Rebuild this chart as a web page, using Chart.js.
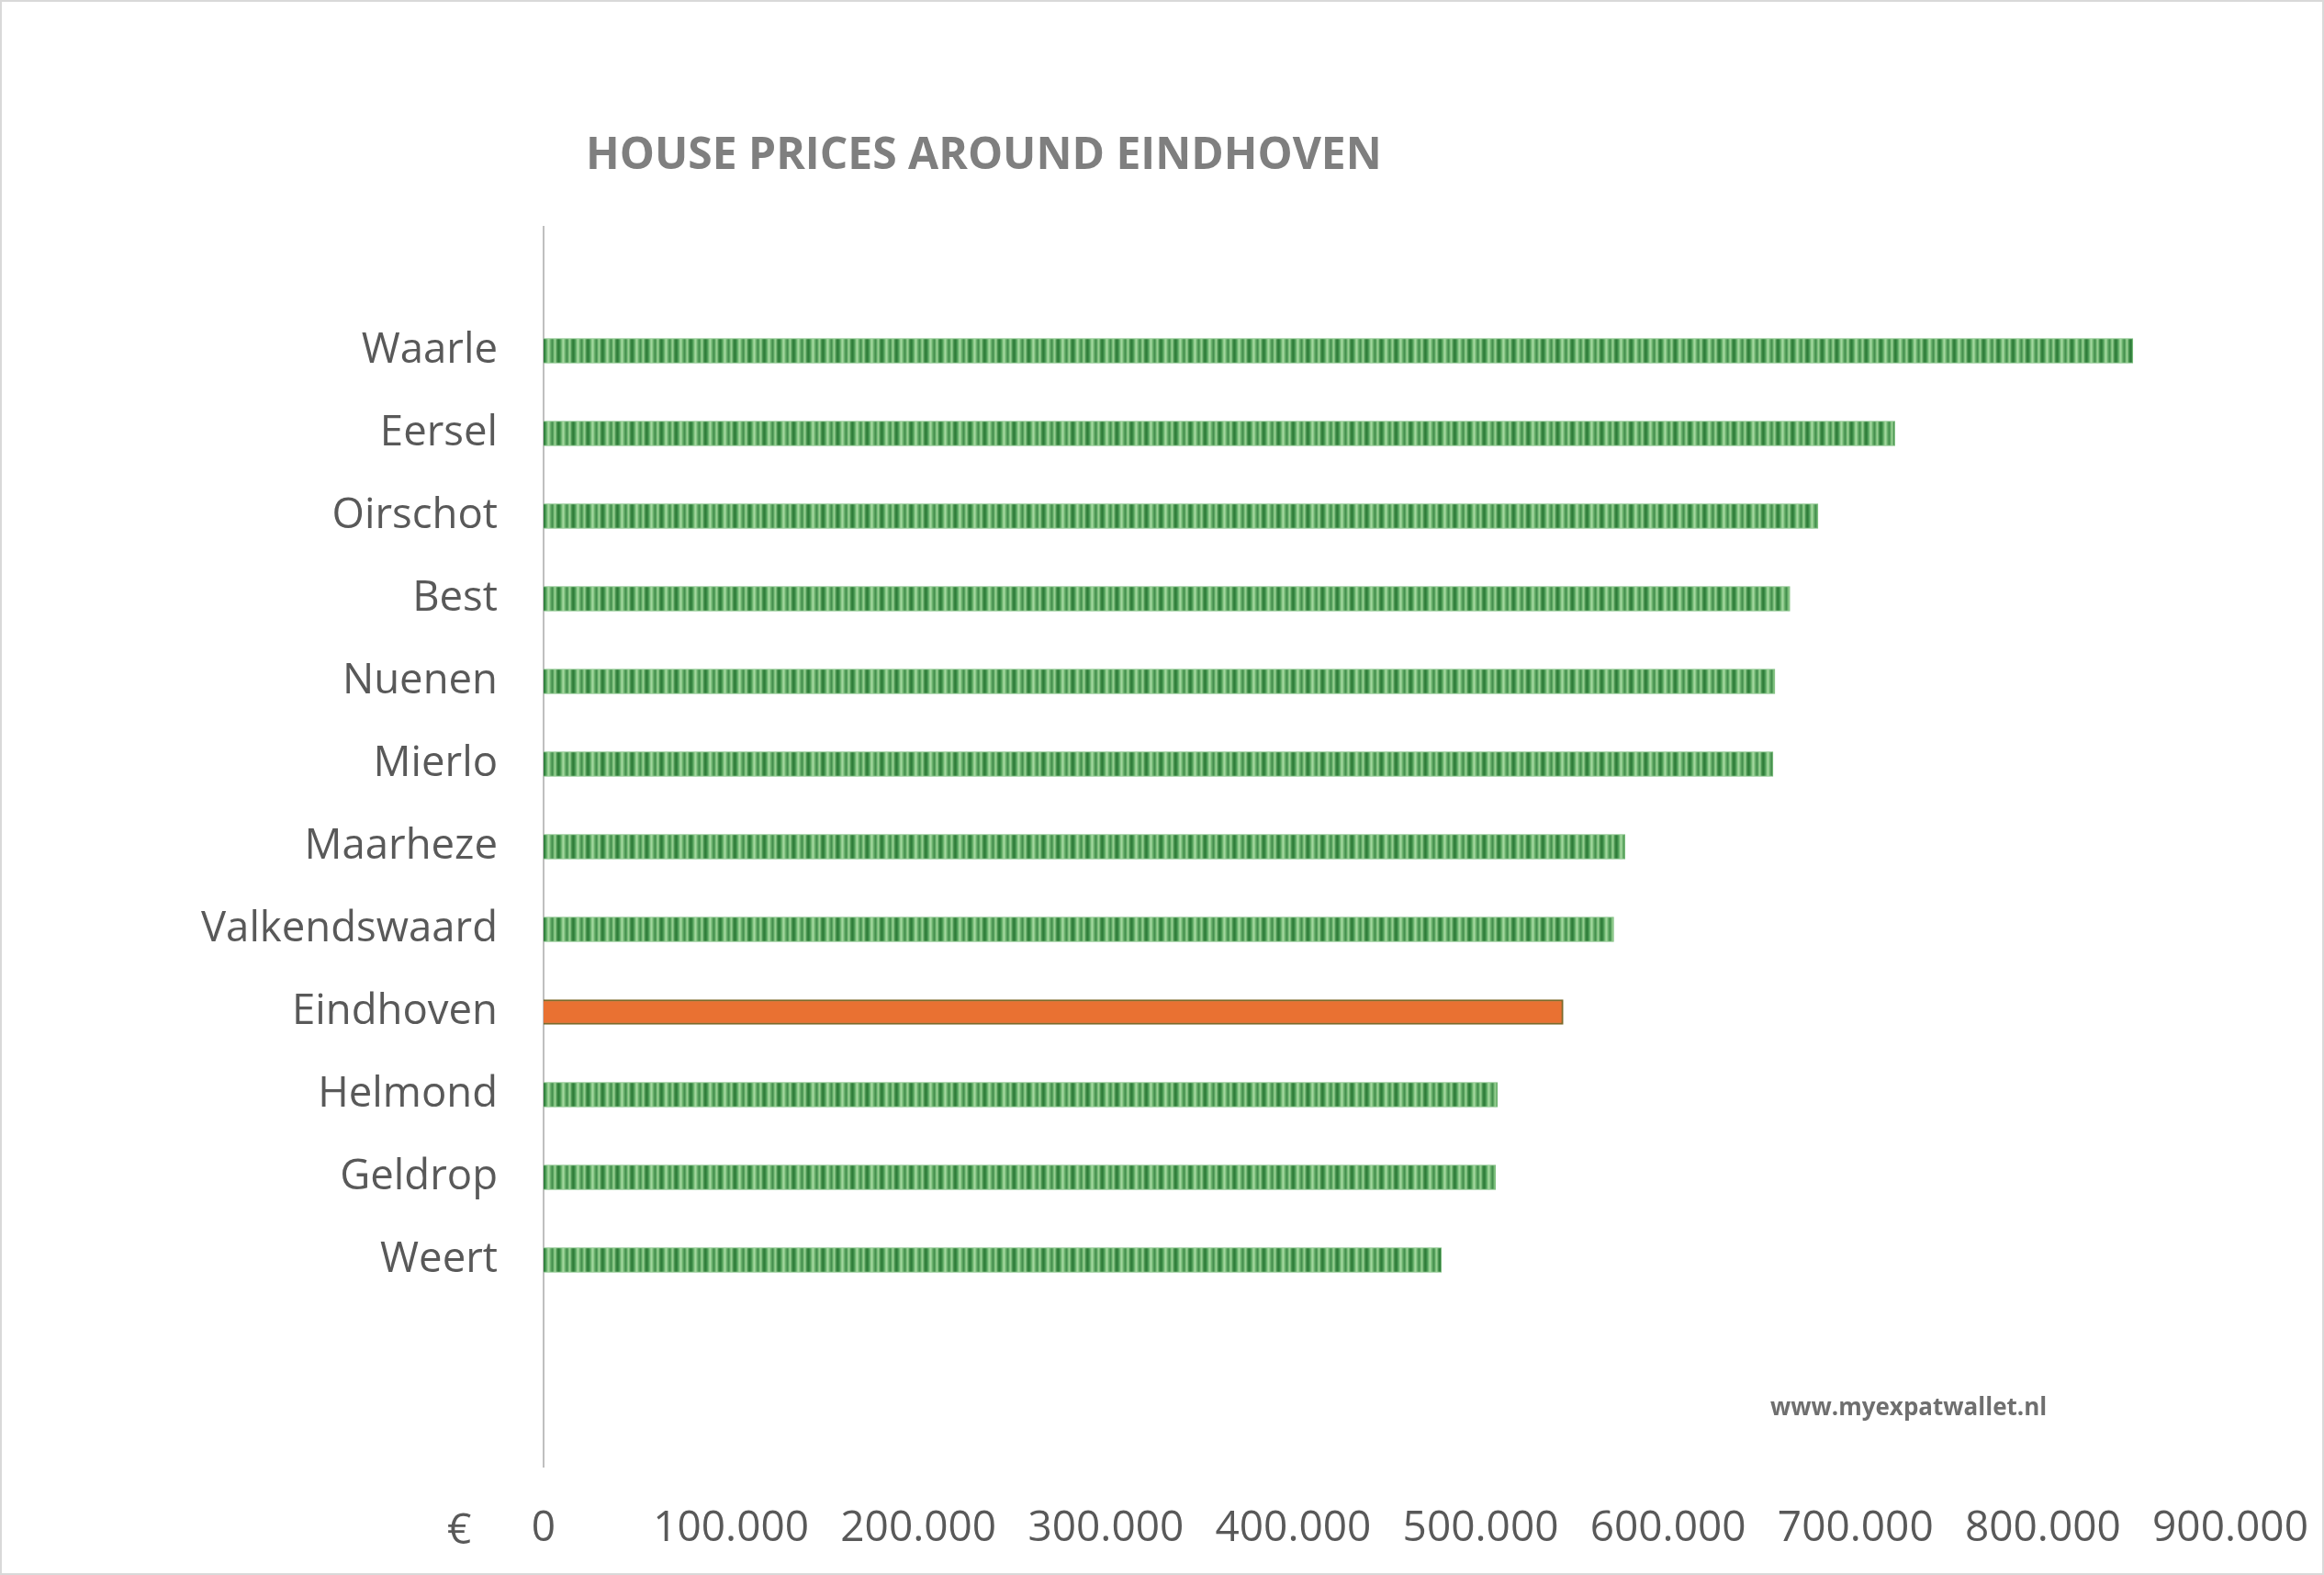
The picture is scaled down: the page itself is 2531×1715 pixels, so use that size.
<!DOCTYPE html>
<html>
<head>
<meta charset="utf-8">
<script src="https://cdn.jsdelivr.net/npm/chart.js@4"></script>
<style>
  body { margin: 0; background: #fff; }
  #wrap { position: relative; width: 2531px; height: 1715px; font-family: "Open Sans", sans-serif; }
  #frame { position: absolute; left: 0; top: 0; width: 2531px; height: 1715px; box-sizing: border-box; border: 2px solid #d9d9d9; pointer-events: none; }
  .txt { position: absolute; white-space: nowrap; line-height: 1; }
  #title { left: 638px; top: 142px; font-size: 48px; font-weight: 700; color: #7f7f7f; }
  #site { left: 1928px; top: 1518px; font-size: 26px; font-weight: 700; color: #6f6f6f; }
  #euro { left: 487px; top: 1640px; font-size: 46px; color: #595959; }
</style>
</head>
<body>
<div id="wrap">
  <canvas id="prijzenChart" width="2531" height="1715"></canvas>
  <div class="txt" id="title">HOUSE PRICES AROUND EINDHOVEN</div>
  <div class="txt" id="site">www.myexpatwallet.nl</div>
  <div class="txt" id="euro">€</div>
  <div id="frame"></div>
</div>
<script>
// plaatsen (lege labels = lege ruimte boven/onder, zoals in het origineel)
const plaatsen = ['', 'Waarle', 'Eersel', 'Oirschot', 'Best', 'Nuenen', 'Mierlo', 'Maarheze',
  'Valkendswaard', 'Eindhoven', 'Helmond', 'Geldrop', 'Weert', '', ''];
const prijzen = [null, 848000, 721000, 680000, 665000, 657000, 656000, 577000,
  571000, 544000, 509000, 508000, 479000, null, null];
const xTickLabels = ['0', '100.000', '200.000', '300.000', '400.000', '500.000',
  '600.000', '700.000', '800.000', '900.000'];
const highlight = 'Eindhoven';

// streepjespatroon voor de groene balken
function stripes() {
  const c = document.createElement('canvas');
  c.width = 16; c.height = 4;
  const g = c.getContext('2d');
  const cols = ['#2f7d3b', '#3a8a45', '#4f9d58', '#6db570', '#8fcb8c', '#a2d69e',
    '#8cc889', '#6bb26e', '#569f5c', '#468f4f', '#5aa560', '#7dbf7c', '#95cd91',
    '#78b977', '#4e9856', '#38853f'];
  cols.forEach((col, i) => { g.fillStyle = col; g.fillRect(i, 0, 1, 4); });
  return g.createPattern(c, 'repeat');
}

const ctx = document.getElementById('prijzenChart').getContext('2d');
const groen = stripes();

new Chart(ctx, {
  type: 'bar',
  data: {
    labels: plaatsen,
    datasets: [{
      data: prijzen,
      backgroundColor: plaatsen.map(p => p === highlight ? '#e97132' : groen),
      borderColor: plaatsen.map(p => p === highlight ? '#7c6a2c' : '#7dbd7e'),
      borderWidth: plaatsen.map(p => p === highlight ? 2 : 1),
      barThickness: 27
    }]
  },
  options: {
    indexAxis: 'y',
    responsive: false,
    animation: false,
    layout: { padding: { top: 247, right: 102, bottom: 0, left: 0 } },
    plugins: {
      legend: { display: false },
      tooltip: { enabled: false }
    },
    scales: {
      x: {
        min: 0,
        max: 900000,
        ticks: {
          stepSize: 100000,
          autoSkip: false,
          maxRotation: 0,
          padding: 40,
          color: '#595959',
          font: { family: 'Open Sans', size: 46 },
          callback: (v, i) => xTickLabels[i]
        },
        grid: { display: false, drawTicks: false },
        border: { display: false },
        afterFit: s => { s.height = 118; s.paddingLeft = 0; s.paddingRight = 0; }
      },
      y: {
        ticks: {
          autoSkip: false,
          padding: 50,
          color: '#595959',
          font: { family: 'Open Sans', size: 45.5 }
        },
        grid: { display: false, drawTicks: false },
        border: { display: true, color: '#bfbfbf', width: 2 },
        afterFit: s => { s.width = 592; }
      }
    }
  }
});
</script>
</body>
</html>
